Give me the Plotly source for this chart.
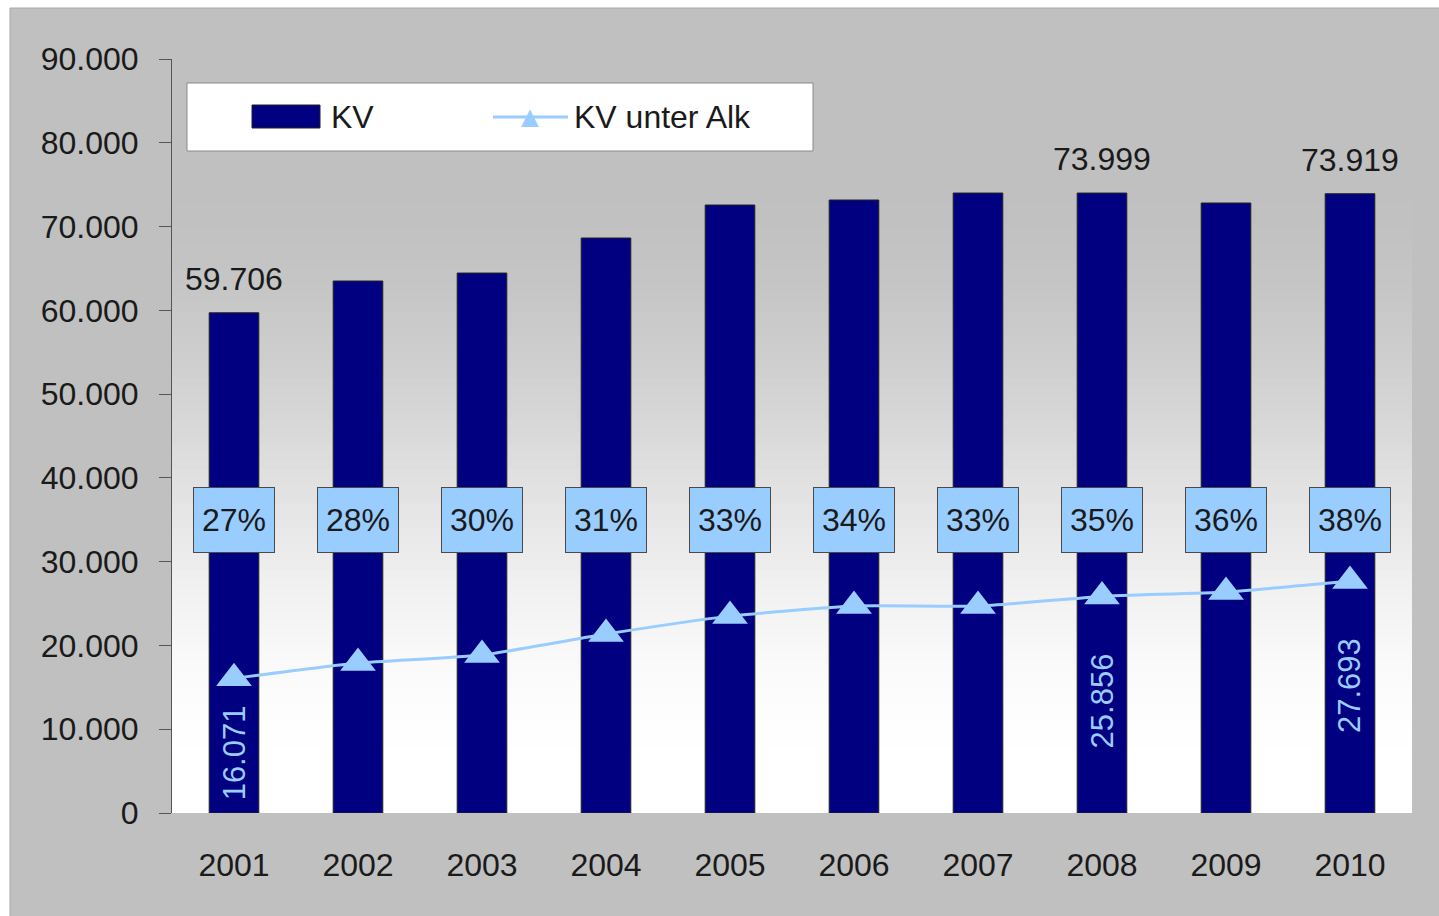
import plotly.graph_objects as go

BG_OUTER = "#c0c0c0"
NAVY = "#000080"
LIGHT = "#99ccff"
TEXT = "#1a1a1a"
AXIS = "#555555"
FONT = "Liberation Sans, Arial, sans-serif"

years = ["2001", "2002", "2003", "2004", "2005", "2006", "2007", "2008", "2009", "2010"]
kv = [59706, 63500, 64450, 68630, 72570, 73170, 74000, 73999, 72810, 73919]
kv_alk = [16071, 17900, 18860, 21360, 23500, 24700, 24700, 25856, 26380, 27693]
alk_share = ["27%", "28%", "30%", "31%", "33%", "34%", "33%", "35%", "36%", "38%"]
kv_labeled = [0, 7, 9]
alk_labeled = [0, 7, 9]

# plot area in pixels (used for the hand-drawn legend / frame)
L, R, T, B = 172, 1412, 59, 813


def px_x(p):
    return (p - L) / (R - L)


def px_y(p):
    return (B - p) / (B - T)


def de_num(v):
    return f"{v:,}".replace(",", ".")


fig = go.Figure()
fig.add_trace(go.Bar(
    x=years, y=kv, name="KV",
    marker=dict(color=NAVY, line=dict(color="#222222", width=1)),
))
fig.add_trace(go.Scatter(
    x=years, y=kv_alk, name="KV unter Alk", mode="lines+markers",
    line=dict(color=LIGHT, width=3, shape="spline", smoothing=0.5),
    marker=dict(symbol="triangle-up", size=31, color=LIGHT),
))

# outer chart area
shapes = [dict(type="rect", xref="paper", yref="paper", layer="below",
               x0=px_x(10), x1=px_x(1460), y0=px_y(940), y1=px_y(8),
               fillcolor=BG_OUTER, line=dict(color="#a8a8a8", width=1))]

# plot area gradient: gray at the top fading to white at the bottom
N = 90
for i in range(N):
    t = (i + 0.5) / N
    s = min(1.0, max(0.0, (t - 0.05) / 0.8))
    s = 3 * s * s - 2 * s ** 3
    c = int(round(255 - 63 * s))
    shapes.append(dict(type="rect", xref="x domain", yref="y domain", layer="below",
                       x0=0, x1=1, y0=i / N, y1=min(1, (i + 1.6) / N),
                       fillcolor=f"rgb({c},{c},{c})", line=dict(width=0)))

# legend box
shapes += [
    dict(type="rect", xref="paper", yref="paper", x0=px_x(187), x1=px_x(813),
         y0=px_y(151), y1=px_y(83), fillcolor="white", line=dict(color="#8a8a8a", width=1)),
    dict(type="rect", xref="paper", yref="paper", x0=px_x(252), x1=px_x(320),
         y0=px_y(128), y1=px_y(105), fillcolor=NAVY, line=dict(color="#222222", width=1)),
    dict(type="line", xref="paper", yref="paper", x0=px_x(493), x1=px_x(568),
         y0=px_y(117), y1=px_y(117), line=dict(color=LIGHT, width=3)),
]

annotations = [
    dict(xref="paper", yref="paper", x=px_x(329), y=px_y(117), text="KV", showarrow=False,
         xanchor="left", yanchor="middle", font=dict(size=32, color=TEXT, family=FONT)),
    dict(xref="paper", yref="paper", x=px_x(572), y=px_y(117), text="KV unter Alk",
         showarrow=False, xanchor="left", yanchor="middle",
         font=dict(size=32, color=TEXT, family=FONT)),
    dict(xref="paper", yref="paper", x=px_x(530), y=px_y(117), text="\u25b2", showarrow=False,
         xanchor="center", yanchor="middle", font=dict(size=30, color=LIGHT, family=FONT)),
]
# category axis: annotation x is the category index
for i in kv_labeled:
    annotations.append(dict(x=i, y=kv[i], text=de_num(kv[i]), showarrow=False,
                            yanchor="bottom", yshift=14,
                            font=dict(size=32, color=TEXT, family=FONT)))
for i in alk_labeled:
    annotations.append(dict(x=i, y=kv_alk[i], text=de_num(kv_alk[i]), showarrow=False,
                            textangle=-90, yanchor="middle",
                            yshift=-75 if i == 0 else -105,
                            font=dict(size=31, color=LIGHT, family=FONT)))
for i, p in enumerate(alk_share):
    annotations.append(dict(x=i, y=35000, text=p, showarrow=False,
                            yanchor="middle", width=78, height=62,
                            bgcolor=LIGHT, bordercolor="#4a4a4a", borderwidth=1,
                            font=dict(size=32, color=TEXT, family=FONT)))

fig.update_layout(
    width=1439, height=916,
    margin=dict(l=L, r=1439 - R, t=T, b=916 - B),
    paper_bgcolor="white",
    plot_bgcolor="rgba(0,0,0,0)",
    separators=",.",
    font=dict(family=FONT, size=32, color=TEXT),
    bargap=0.6,
    showlegend=False,
    xaxis=dict(type="category", showgrid=False, showline=False, ticks="",
               tickfont=dict(size=32, color=TEXT), ticklabelstandoff=30,
               range=[-0.5, 9.5]),
    yaxis=dict(range=[0, 90000], dtick=10000, tickformat=",d", showgrid=False,
               zeroline=False, showline=True, linecolor=AXIS, linewidth=1,
               ticks="outside", ticklen=12, tickcolor=AXIS,
               tickfont=dict(size=32, color=TEXT), ticklabelstandoff=14),
    shapes=shapes,
    annotations=annotations,
    hovermode=False,
)

fig.write_html("out.html", config={"displayModeBar": False},
               post_script="document.body.style.margin='0';")
